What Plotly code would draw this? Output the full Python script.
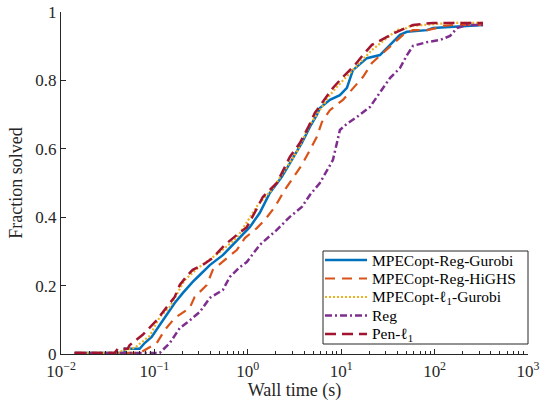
import plotly.graph_objects as go

# Performance profiles: wall time (s) vs fraction of problems solved
t_gurobi = [0.0140, 0.0481, 0.0481, 0.0696, 0.0787, 0.0935, 0.114, 0.135, 0.165, 0.201,
            0.257, 0.306, 0.392, 0.540, 0.762, 1.050, 1.345, 1.721, 2.314, 2.963,
            3.791, 4.619, 5.492, 5.911, 7.026, 7.568, 9.685, 11.51, 13.35, 18.85,
            25.99, 33.27, 42.59, 50.61, 82.87, 96.1, 135.8, 330.0]
f_gurobi = [0.003, 0.003, 0.015, 0.015, 0.032, 0.050, 0.085, 0.114, 0.149, 0.178,
            0.211, 0.231, 0.260, 0.289, 0.333, 0.371, 0.413, 0.471, 0.518, 0.567,
            0.617, 0.664, 0.699, 0.719, 0.734, 0.743, 0.757, 0.778, 0.830, 0.865,
            0.874, 0.904, 0.933, 0.942, 0.947, 0.953, 0.956, 0.962]

t_highs = [0.0140, 0.0696, 0.106, 0.129, 0.165, 0.239, 0.270, 0.364, 0.422, 0.567,
           0.762, 0.929, 1.249, 1.521, 1.947, 2.493, 3.036, 3.791, 4.619, 5.492,
           6.209, 7.568, 10.43, 13.35, 17.08, 21.33, 27.99, 35.83, 45.86, 58.68,
           82.87, 106.1, 120.0, 157.5, 330.0]
f_highs = [0.003, 0.003, 0.032, 0.070, 0.105, 0.135, 0.167, 0.202, 0.246, 0.275,
           0.304, 0.339, 0.368, 0.392, 0.430, 0.480, 0.515, 0.553, 0.596, 0.635,
           0.678, 0.713, 0.743, 0.778, 0.810, 0.851, 0.880, 0.909, 0.933, 0.947,
           0.947, 0.953, 0.959, 0.962, 0.962]

t_l1 = [0.0140, 0.0446, 0.0446, 0.0615, 0.0891, 0.114, 0.146, 0.211, 0.291, 0.501,
        0.762, 1.280, 1.808, 3.352, 4.619, 7.568, 8.994, 15.10, 21.33, 30.90,
        39.54, 50.61, 54.48, 146.2, 330.0]
f_l1 = [0.003, 0.003, 0.009, 0.018, 0.053, 0.108, 0.137, 0.216, 0.251, 0.298,
        0.339, 0.436, 0.480, 0.591, 0.670, 0.757, 0.781, 0.845, 0.889, 0.924,
        0.947, 0.953, 0.959, 0.968, 0.968]

t_reg = [0.0140, 0.114, 0.146, 0.187, 0.222, 0.306, 0.392, 0.540, 0.641, 0.821,
         0.976, 1.345, 2.046, 2.820, 3.791, 4.619, 5.911, 7.026, 8.147, 8.994,
         9.685, 11.51, 14.73, 20.30, 25.99, 33.27, 42.59, 50.61, 58.68, 82.87,
         114.3, 146.2, 173.9, 222.5, 330.0]
f_reg = [0.003, 0.003, 0.032, 0.076, 0.091, 0.123, 0.164, 0.187, 0.225, 0.254,
         0.269, 0.319, 0.363, 0.401, 0.430, 0.465, 0.500, 0.538, 0.567, 0.617,
         0.655, 0.673, 0.693, 0.722, 0.766, 0.807, 0.836, 0.874, 0.901, 0.912,
         0.918, 0.930, 0.953, 0.962, 0.962]

t_pen = [0.0140, 0.0375, 0.0404, 0.0517, 0.0544, 0.0749, 0.106, 0.135, 0.165, 0.187,
         0.227, 0.257, 0.329, 0.422, 0.567, 0.762, 0.976, 1.249, 1.448, 2.046,
         2.820, 3.608, 4.397, 5.225, 6.209, 8.147, 10.17, 14.02, 17.08, 21.33,
         30.90, 39.54, 58.68, 96.1, 330.0]
f_pen = [0.003, 0.003, 0.015, 0.015, 0.026, 0.056, 0.099, 0.135, 0.167, 0.202,
         0.231, 0.246, 0.260, 0.281, 0.319, 0.348, 0.371, 0.425, 0.459, 0.500,
         0.576, 0.617, 0.661, 0.705, 0.734, 0.778, 0.807, 0.845, 0.874, 0.904,
         0.927, 0.942, 0.962, 0.968, 0.968]

x_tick_vals = [0.01, 0.1, 1, 10, 100, 1000]
x_tick_text = ["10<sup>−2</sup>", "10<sup>−1</sup>", "10<sup>0</sup>",
               "10<sup>1</sup>", "10<sup>2</sup>", "10<sup>3</sup>"]
y_tick_vals = [0, 0.2, 0.4, 0.6, 0.8, 1]

series = [
    ("MPECopt-Reg-Gurobi", t_gurobi, f_gurobi, "#0072BD", "solid", 2.5),
    ("MPECopt-Reg-HiGHS", t_highs, f_highs, "#D95319", "10px,7px", 2.2),
    ("MPECopt-ℓ<sub>1</sub>-Gurobi", t_l1, f_l1, "#EDB120", "2px,2px", 2.2),
    ("Reg", t_reg, f_reg, "#7E2F8E", "7px,3px,2px,3px", 2.5),
    ("Pen-ℓ<sub>1</sub>", t_pen, f_pen, "#A2142F", "11px,6px", 2.5),
]

axis_color = "#262626"
font_family = "Liberation Serif, DejaVu Serif, serif"

# figure geometry (pixels)
W, H = 540, 401
ML, MR, MT, MB = 61, 12, 12, 47
PW, PH = W - ML - MR, H - MT - MB


def px_x(p):
    return (p - ML) / PW


def px_y(p):
    return (H - MB - p) / PH


fig = go.Figure()
for name, t, f, color, dash, width in series:
    fig.add_trace(go.Scatter(
        x=t, y=f, name=name, mode="lines", showlegend=False,
        line=dict(color=color, dash=dash, width=width),
    ))

# boxed legend in the lower-right corner
shapes = [dict(type="rect", xref="paper", yref="paper",
               x0=px_x(323), x1=px_x(528), y0=px_y(344), y1=px_y(251),
               line=dict(color=axis_color, width=1), fillcolor="white", layer="above")]
annotations = []
row_y = [260, 278.5, 297, 315.5, 334]
for (name, _t, _f, color, dash, width), ry in zip(series, row_y):
    shapes.append(dict(type="line", xref="paper", yref="paper",
                       x0=px_x(325), x1=px_x(367), y0=px_y(ry), y1=px_y(ry),
                       line=dict(color=color, dash=dash, width=width), layer="above"))
    annotations.append(dict(xref="paper", yref="paper", x=px_x(370), y=px_y(ry),
                            xanchor="left", yanchor="middle", showarrow=False,
                            text=name, font=dict(family=font_family, size=15.5, color="black")))

minor_vals = [m * 10.0 ** e for e in range(-2, 3) for m in range(2, 10)]

fig.update_layout(
    width=W, height=H,
    margin=dict(l=ML, r=MR, t=MT, b=MB),
    paper_bgcolor="white", plot_bgcolor="white",
    font=dict(family=font_family, size=17, color=axis_color),
    showlegend=False,
    shapes=shapes,
    annotations=annotations,
    xaxis=dict(
        type="log", range=[-2, 3], automargin=False,
        tickmode="array", tickvals=x_tick_vals, ticktext=x_tick_text,
        ticks="inside", ticklen=5, tickcolor=axis_color, tickwidth=1,
        ticklabelstandoff=2,
        minor=dict(tickmode="array", tickvals=minor_vals, ticks="inside",
                   ticklen=3, tickcolor=axis_color, tickwidth=1, showgrid=False),
        showline=True, linecolor=axis_color, linewidth=1, mirror=False,
        showgrid=False, zeroline=False,
        tickfont=dict(size=17),
        title=dict(text="Wall time (s)", font=dict(size=18), standoff=2),
    ),
    yaxis=dict(
        range=[0, 1], automargin=False,
        tickmode="array", tickvals=y_tick_vals,
        ticks="inside", ticklen=5, tickcolor=axis_color, tickwidth=1,
        showline=True, linecolor=axis_color, linewidth=1, mirror=False,
        showgrid=False, zeroline=False,
        tickfont=dict(size=17),
        title=dict(text="Fraction solved", font=dict(size=18), standoff=8),
    ),
)

fig.write_html("out.html")
